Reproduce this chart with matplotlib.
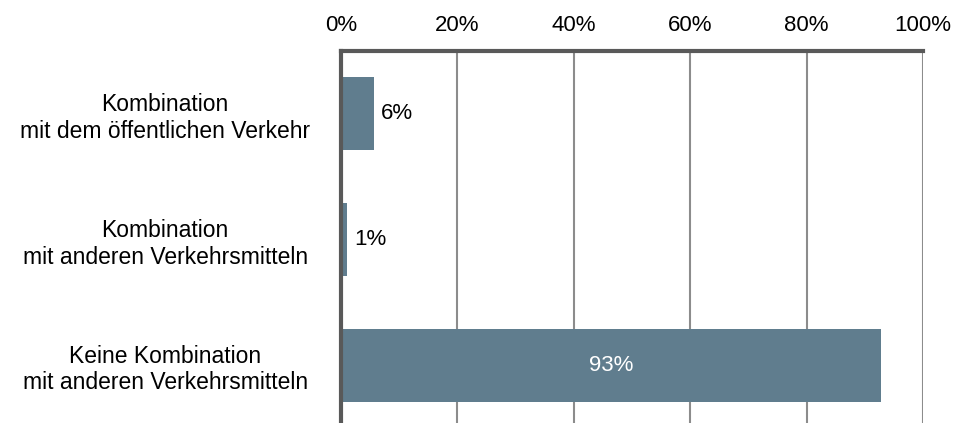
import matplotlib
matplotlib.use("Agg")
import matplotlib.pyplot as plt

plt.rcParams['font.family'] = ['Liberation Sans', 'DejaVu Sans']

categories = [
    "Kombination\nmit dem öffentlichen Verkehr",
    "Kombination\nmit anderen Verkehrsmitteln",
    "Keine Kombination\nmit anderen Verkehrsmitteln",
]
values = [5.7, 1.1, 92.8]
value_labels = ["6%", "1%", "93%"]
inside = [False, False, True]
xticks = [0, 20, 40, 60, 80, 100]
xticklabels = ["0%", "20%", "40%", "60%", "80%", "100%"]

bar_color = "#607d8e"
spine_color = "#595959"
grid_color = "#8c8c8c"
fs = 16

fig = plt.figure(figsize=(9.56, 4.23), dpi=100)
ax = fig.add_axes([341/956, -5/423, (923-341)/956, (428-51)/423])

y = list(range(len(categories)))
ax.barh(y, values, height=0.58, color=bar_color, zorder=3)

for yi, v, lab, ins in zip(y, values, value_labels, inside):
    if ins:
        ax.text(v/2, yi, lab, ha='center', va='center', color='white', fontsize=fs, zorder=4)
    else:
        ax.annotate(lab, xy=(v, yi), xytext=(5, 0), textcoords='offset points',
                    ha='left', va='center', color='black', fontsize=fs, zorder=4)

ax.set_xlim(0, 100)
ax.set_ylim(2.5, -0.5)
ax.set_yticks(y)
ax.set_yticklabels(categories, fontsize=16.5, ha='center', multialignment='center',
                   linespacing=1.2)
ax.set_xticks(xticks)
ax.set_xticklabels(xticklabels, fontsize=fs)
ax.xaxis.tick_top()
ax.tick_params(axis='both', length=0)
ax.tick_params(axis='x', pad=11)
for lbl in ax.get_yticklabels():
    lbl.set_x(-0.302)
ax.tick_params(axis='y', pad=0)

ax.grid(axis='x', color=grid_color, linewidth=1.5, zorder=0)
ax.set_axisbelow(True)
for s in ['right', 'bottom']:
    ax.spines[s].set_visible(False)
for s in ['left', 'top']:
    ax.spines[s].set_color(spine_color)
    ax.spines[s].set_linewidth(3)
    ax.spines[s].set_zorder(5)

fig.savefig("out.png", dpi=100)
